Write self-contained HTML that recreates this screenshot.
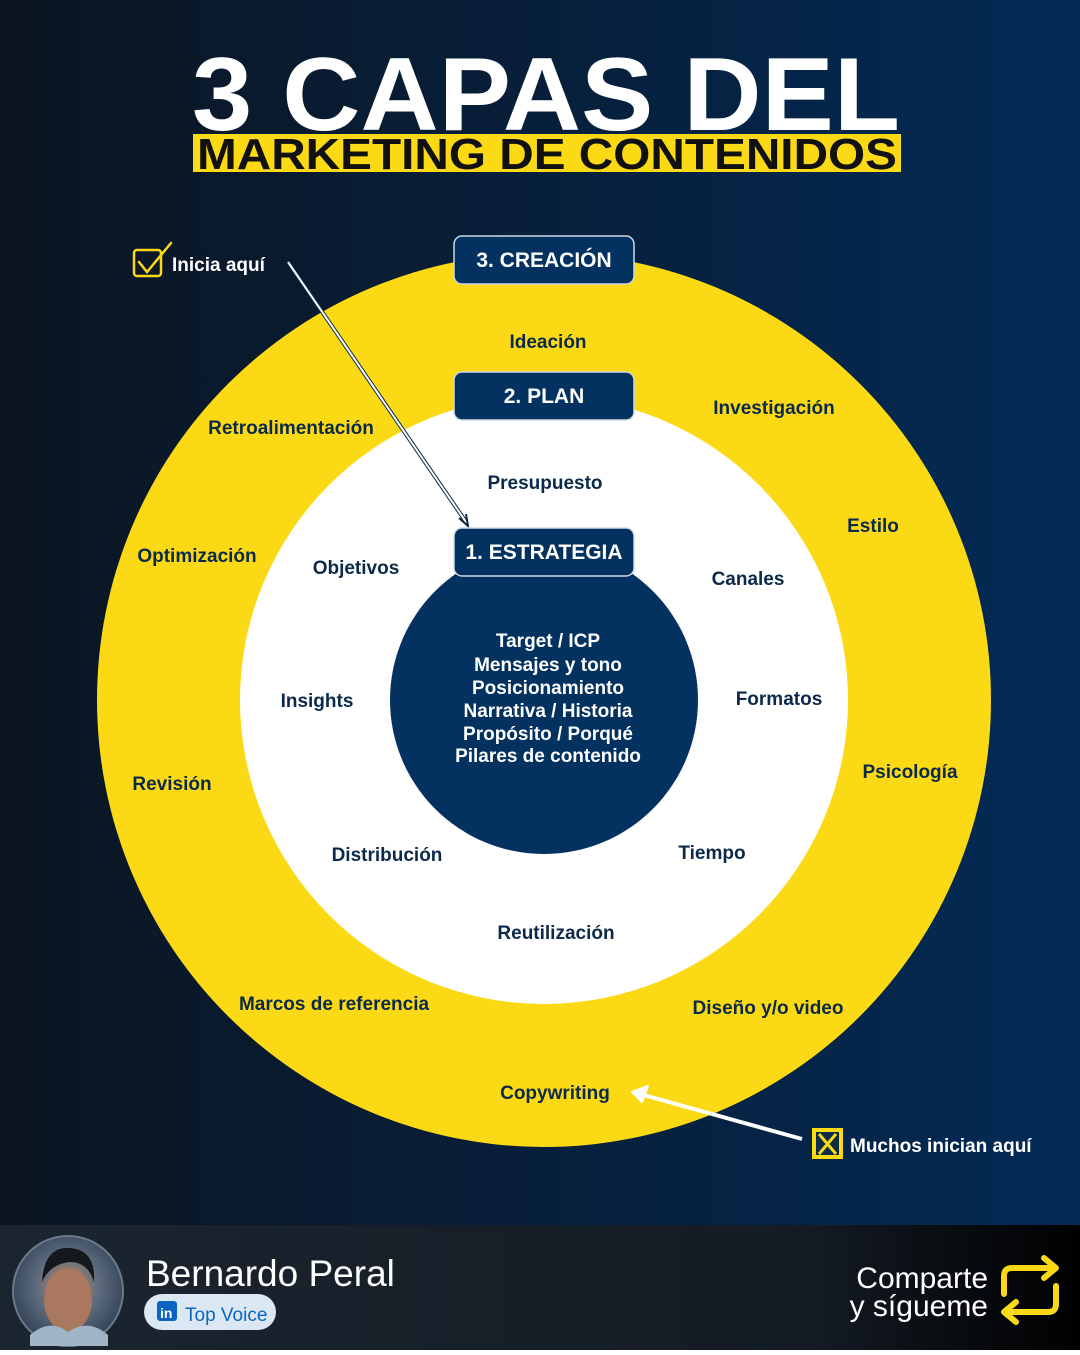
<!DOCTYPE html>
<html><head><meta charset="utf-8"><style>
html,body{margin:0;padding:0}
body{width:1080px;height:1350px;overflow:hidden;font-family:"Liberation Sans",sans-serif}
</style></head><body>
<svg width="1080" height="1350" viewBox="0 0 1080 1350" xmlns="http://www.w3.org/2000/svg" font-family="Liberation Sans, sans-serif">
<defs>
<linearGradient id="bg" x1="0" y1="0" x2="1" y2="0">
<stop offset="0" stop-color="#0b1521"/><stop offset="0.55" stop-color="#07203d"/><stop offset="1" stop-color="#032b56"/>
</linearGradient>
<linearGradient id="ft" x1="0" y1="0" x2="1" y2="0">
<stop offset="0" stop-color="#1b2530"/><stop offset="0.75" stop-color="#141b24"/><stop offset="1" stop-color="#000"/>
</linearGradient>
<radialGradient id="ph" cx="0.5" cy="0.45" r="0.6">
<stop offset="0" stop-color="#b98a70"/><stop offset="0.5" stop-color="#5a6a7c"/><stop offset="1" stop-color="#2a3a4c"/>
</radialGradient>
</defs>
<rect width="1080" height="1350" fill="url(#bg)"/>
<rect y="1225" width="1080" height="125" fill="url(#ft)"/>

<text x="546" y="130" text-anchor="middle" font-size="104" font-weight="bold" fill="#fff" textLength="708" lengthAdjust="spacingAndGlyphs">3 CAPAS DEL</text>
<rect x="193" y="134" width="708" height="38" fill="#fcd915"/>
<text x="547" y="169" text-anchor="middle" font-size="44" font-weight="bold" fill="#111" textLength="700" lengthAdjust="spacingAndGlyphs">MARKETING DE CONTENIDOS</text>

<circle cx="544" cy="700" r="447" fill="#fcd915"/>
<circle cx="544" cy="700" r="304" fill="#fff"/>
<circle cx="544" cy="700" r="154" fill="#033160"/>

<g font-weight="bold" fill="#0b2a4a" font-size="19" text-anchor="middle">
<text x="548" y="348">Ideación</text>
<text x="774" y="414">Investigación</text>
<text x="291" y="434">Retroalimentación</text>
<text x="873" y="532">Estilo</text>
<text x="197" y="562">Optimización</text>
<text x="910" y="778">Psicología</text>
<text x="172" y="790">Revisión</text>
<text x="334" y="1010">Marcos de referencia</text>
<text x="768" y="1014">Diseño y/o video</text>
<text x="555" y="1099">Copywriting</text>
<text x="545" y="489">Presupuesto</text>
<text x="356" y="574">Objetivos</text>
<text x="748" y="585">Canales</text>
<text x="317" y="707">Insights</text>
<text x="779" y="705">Formatos</text>
<text x="387" y="861">Distribución</text>
<text x="712" y="859">Tiempo</text>
<text x="556" y="939">Reutilización</text>
</g>
<g font-weight="bold" fill="#fff" font-size="19" text-anchor="middle">
<text x="548" y="647">Target / ICP</text>
<text x="548" y="671">Mensajes y tono</text>
<text x="548" y="694">Posicionamiento</text>
<text x="548" y="717">Narrativa / Historia</text>
<text x="548" y="740">Propósito / Porqué</text>
<text x="548" y="762">Pilares de contenido</text>
</g>

<!-- Inicia aquí -->
<rect x="134" y="250" width="27" height="26" rx="3" fill="none" stroke="#fcd915" stroke-width="2.5"/>
<path d="M139 262 L147 272 L171 243" fill="none" stroke="#fcd915" stroke-width="2.5" stroke-linecap="round"/>
<text x="172" y="271" font-weight="bold" font-size="19" fill="#fff">Inicia aquí</text>
<line x1="288" y1="262" x2="466" y2="522" stroke="#0b2a4a" stroke-width="4"/>
<line x1="288" y1="262" x2="466" y2="522" stroke="#fff" stroke-width="2"/>
<path d="M459 518 L468 526 L466 514" fill="none" stroke="#0b2a4a" stroke-width="2"/>

<g font-weight="bold" fill="#fff" font-size="21" text-anchor="middle">
<rect x="454" y="236" width="180" height="48" rx="8" fill="#033160" stroke="#cfd8e3" stroke-width="1.5"/>
<text x="544" y="267">3. CREACIÓN</text>
<rect x="454" y="372" width="180" height="48" rx="8" fill="#033160" stroke="#cfd8e3" stroke-width="1.5"/>
<text x="544" y="403">2. PLAN</text>
<rect x="454" y="528" width="180" height="48" rx="8" fill="#033160" stroke="#cfd8e3" stroke-width="1.5"/>
<text x="544" y="559">1. ESTRATEGIA</text>
</g>

<!-- Muchos inician aquí -->
<line x1="802" y1="1139" x2="640" y2="1094" stroke="#fff" stroke-width="4"/>
<path d="M632 1092 L648 1086 L642 1102 Z" fill="#fff" stroke="#fff" stroke-width="2" stroke-linejoin="round"/>
<rect x="812" y="1128" width="31" height="31" fill="#fcd915"/>
<rect x="816" y="1132" width="23" height="23" fill="#0d2a48"/>
<path d="M819 1134 L836 1154 M836 1134 L819 1154" stroke="#fcd915" stroke-width="3"/>
<text x="850" y="1152" font-weight="bold" font-size="19" fill="#fff">Muchos inician aquí</text>

<!-- footer -->
<circle cx="68" cy="1291" r="55" fill="url(#ph)" stroke="#6a7a8a" stroke-width="2"/>
<ellipse cx="68" cy="1300" rx="24" ry="32" fill="#a9785f"/>
<path d="M42 1282 Q44 1246 70 1248 Q96 1250 94 1282 Q88 1262 70 1262 Q50 1264 42 1282Z" fill="#15181c"/>
<path d="M30 1335 Q50 1318 68 1332 Q88 1318 108 1335 L108 1346 L30 1346Z" fill="#9fb4c4"/>
<text x="146" y="1286" font-size="37" fill="#fff">Bernardo Peral</text>
<rect x="144" y="1294" width="132" height="36" rx="18" fill="#dbe7f3"/>
<rect x="157" y="1301" width="20" height="20" rx="3" fill="#0a66c2"/>
<text x="160" y="1318" font-size="14" font-weight="bold" fill="#fff">in</text>
<text x="185" y="1321" font-size="19" fill="#0a66c2">Top Voice</text>
<text x="988" y="1288" text-anchor="end" font-size="30" fill="#fff">Comparte</text>
<text x="988" y="1316" text-anchor="end" font-size="30" fill="#fff">y sígueme</text>
<g fill="none" stroke="#fcd915" stroke-width="6" stroke-linecap="round" stroke-linejoin="round">
<path d="M1004 1294 L1004 1276 Q1004 1268 1012 1268 L1054 1268 M1044 1258 L1056 1268 L1044 1278"/>
<path d="M1056 1286 L1056 1304 Q1056 1312 1048 1312 L1006 1312 M1016 1302 L1004 1312 L1016 1322"/>
</g>
</svg>
</body></html>
